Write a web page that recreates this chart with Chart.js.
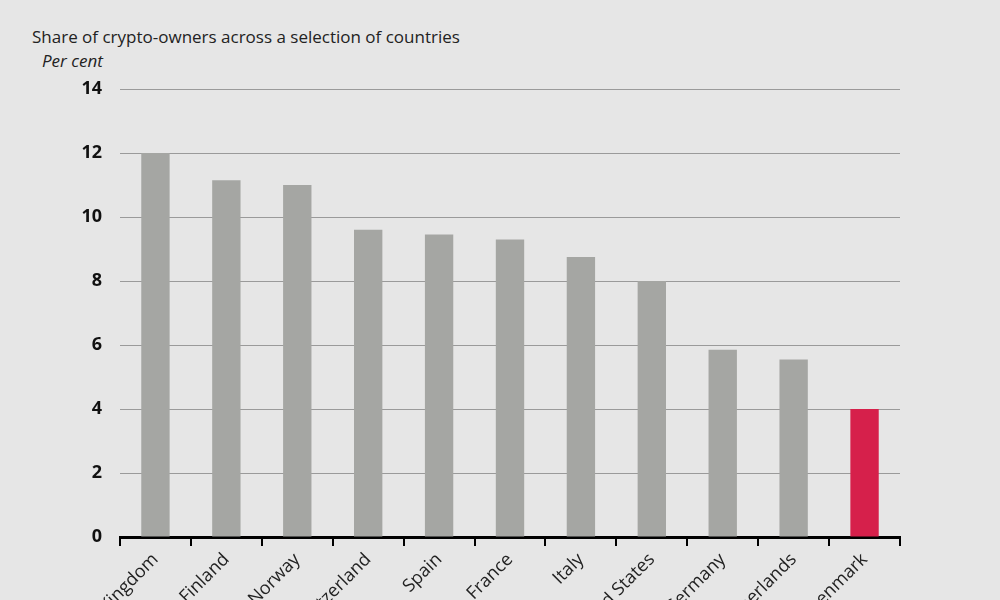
<!DOCTYPE html>
<html>
<head>
<meta charset="utf-8">
<script src="https://cdn.jsdelivr.net/npm/chart.js@4/dist/chart.umd.min.js"></script>
<style>
  body { margin: 0; width: 1000px; height: 600px; overflow: hidden; background: #e6e6e6; font-family: "Open Sans", sans-serif; position: relative; }
  #title { position: absolute; left: 32px; top: 25px; font-size: 17px; color: #222; }
  #unit { position: absolute; left: 42px; top: 49px; font-size: 17px; font-style: italic; color: #222; }
  #wrap { position: absolute; left: 0; top: 0; width: 1000px; height: 720px; }
</style>
</head>
<body>
<div id="title">Share of crypto-owners across a selection of countries</div>
<div id="unit">Per cent</div>
<div id="wrap"><canvas id="chartCrypto"></canvas></div>
<script>
const countries = ["United Kingdom", "Finland", "Norway", "Switzerland", "Spain", "France", "Italy", "United States", "Germany", "Netherlands", "Denmark"];
const shares = [12, 11.15, 11, 9.6, 9.45, 9.3, 8.75, 8, 5.85, 5.55, 4];
const barColors = countries.map(c => c === "Denmark" ? "#d6204b" : "#a5a6a3");

new Chart(document.getElementById("chartCrypto"), {
    type: "bar",
    data: { labels: countries, datasets: [{ data: shares, backgroundColor: barColors, barPercentage: 0.4, categoryPercentage: 1 }] },
    options: {
        responsive: true, maintainAspectRatio: false, animation: false,
        layout: { padding: { top: 89, right: 100, left: 0, bottom: 0 } },
        plugins: { legend: { display: false }, tooltip: { enabled: false } },
        scales: {
            x: {
                afterFit: s => { s.height = 183; },
                grid: { offset: true, drawOnChartArea: false, tickLength: 9, color: "#000", lineWidth: 2 },
                border: { color: "#000", width: 3 },
                ticks: { minRotation: 45, maxRotation: 45, color: "#222", font: { family: "Open Sans", size: 18 } }
            },
            y: {
                min: 0, max: 14,
                afterFit: s => { s.width = 120; },
                grid: { color: "#9a9a9a", lineWidth: 1, drawTicks: false },
                border: { display: false },
                ticks: { stepSize: 2, padding: 18, color: "#111", font: { family: "Open Sans", size: 18, weight: "bold" } }
            }
        }
    }
});
</script>
</body>
</html>
